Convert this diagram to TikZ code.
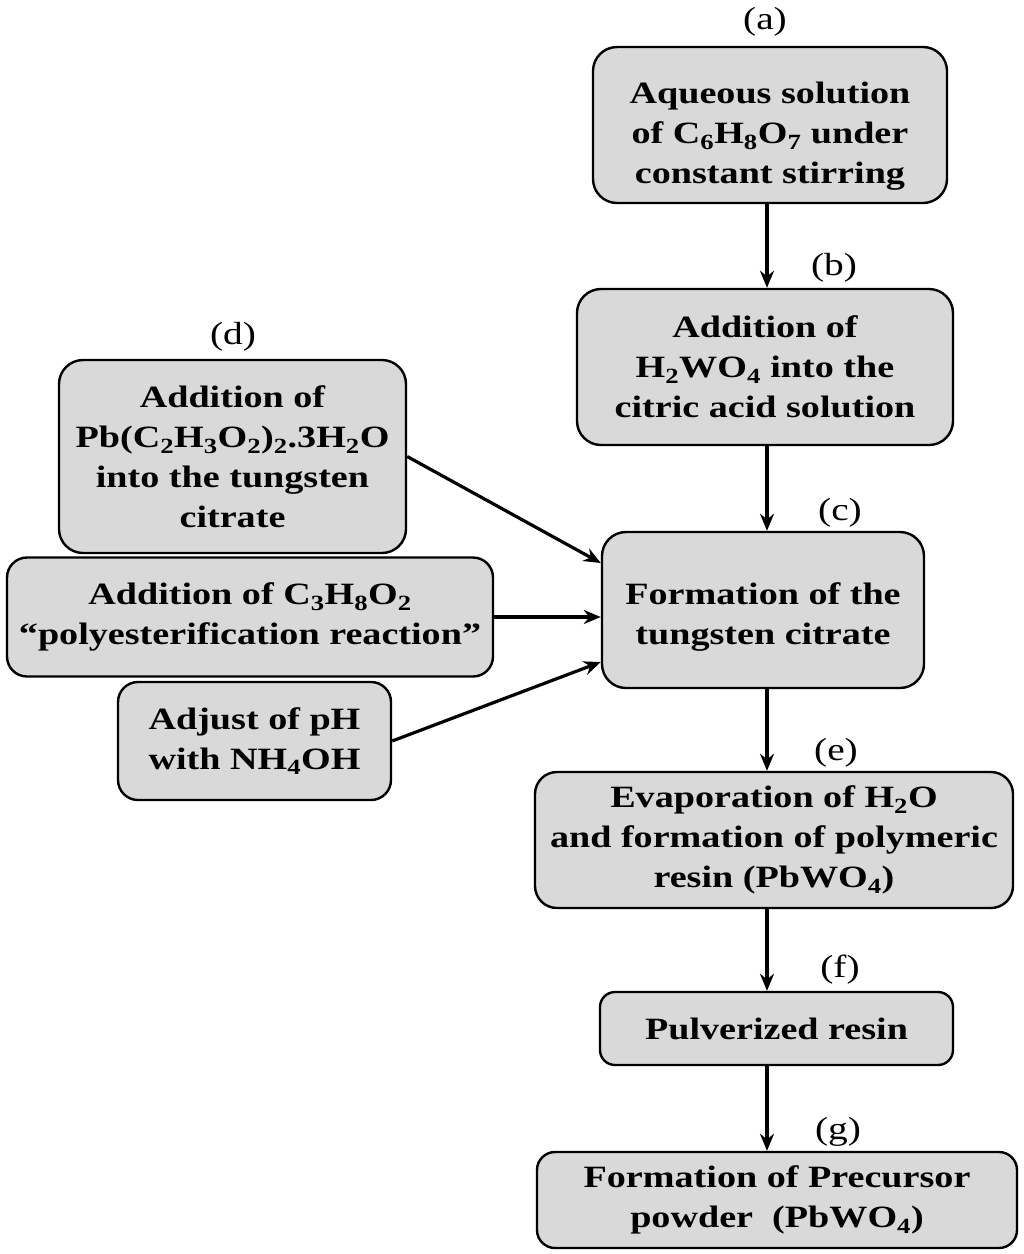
\documentclass[tikz,border=0pt]{standalone}
\usepackage{fontspec}
\setmainfont{Liberation Serif}[FakeStretch=1.23]
\usetikzlibrary{arrows.meta}
\definecolor{boxfill}{gray}{0.85}
\tikzset{
  stage/.style={draw=black, line width=2.4pt, fill=boxfill, rounded corners=24pt,
    align=center, inner sep=0pt, font=\fontsize{31}{40}\selectfont\bfseries},
  tag/.style={font=\fontsize{32}{36}\selectfont, inner sep=0pt},
  arr/.style={line width=3.2pt, -{Stealth[length=17pt,width=14pt]}}
}
\begin{document}
\begin{tikzpicture}[x=1pt,y=-1pt]
\useasboundingbox (0,0) rectangle (1024,1254);
\coordinate (X) at (767,0);
% boxes
\node[stage, minimum width=354pt, minimum height=156pt] (a) at (770,125)
  {\rule{0pt}{44pt}Aqueous solution\\of C\textsubscript{6}H\textsubscript{8}O\textsubscript{7} under\\constant stirring};
\node[stage, minimum width=376pt, minimum height=156pt] (b) at (765,367)
  {Addition of\\H\textsubscript{2}WO\textsubscript{4} into the\\citric acid solution};
\node[stage, minimum width=322pt, minimum height=156pt] (c) at (763,610)
  {\rule{0pt}{36pt}Formation of the\\tungsten citrate};
\node[stage, minimum width=347pt, minimum height=193pt] (d) at (232.5,456.5)
  {Addition of\\Pb(C\textsubscript{2}H\textsubscript{3}O\textsubscript{2})\textsubscript{2}.3H\textsubscript{2}O\\into the tungsten\\citrate};
\node[stage, minimum width=486pt, minimum height=119pt, rounded corners=20pt] (p) at (250,617)
  {Addition of C\textsubscript{3}H\textsubscript{8}O\textsubscript{2}\\“polyesterification reaction”};
\node[stage, minimum width=273pt, minimum height=118pt, rounded corners=20pt] (h) at (254.5,741)
  {Adjust of pH\\with NH\textsubscript{4}OH};
\node[stage, minimum width=478pt, minimum height=136pt, rounded corners=22pt] (e) at (774,840)
  {Evaporation of H\textsubscript{2}O\\and formation of polymeric\\resin (PbWO\textsubscript{4})};
\node[stage, minimum width=353pt, minimum height=73pt, rounded corners=15pt] (f) at (776.5,1028.5)
  {Pulverized resin};
\node[stage, minimum width=480pt, minimum height=96pt, rounded corners=18pt] (g) at (777,1200)
  {Formation of Precursor\\powder \ (PbWO\textsubscript{4})};
% labels
\node[tag] (la) at (765,22) {(a)};
\node[tag] (lb) at (834,268) {(b)};
\node[tag] (lc) at (840,513) {(c)};
\node[tag] (ld) at (233,337) {(d)};
\node[tag] (le) at (836,753) {(e)};
\node[tag] (lf) at (840,970) {(f)};
\node[tag] (lg) at (838,1132) {(g)};
% arrows
\draw[arr] (a.south -| X) -- (b.north -| X);
\draw[arr] (b.south -| X) -- (c.north -| X);
\draw[arr] (c.south -| X) -- (e.north -| X);
\draw[arr] (e.south -| X) -- (f.north -| X);
\draw[arr] (f.south -| X) -- (g.north -| X);
\draw[arr] (d.east) -- ([yshift=47pt]c.west);
\draw[arr] (p.east) -- (p.east -| c.west);
\draw[arr] (h.east) -- ([yshift=-52pt]c.west);
\end{tikzpicture}
\end{document}
